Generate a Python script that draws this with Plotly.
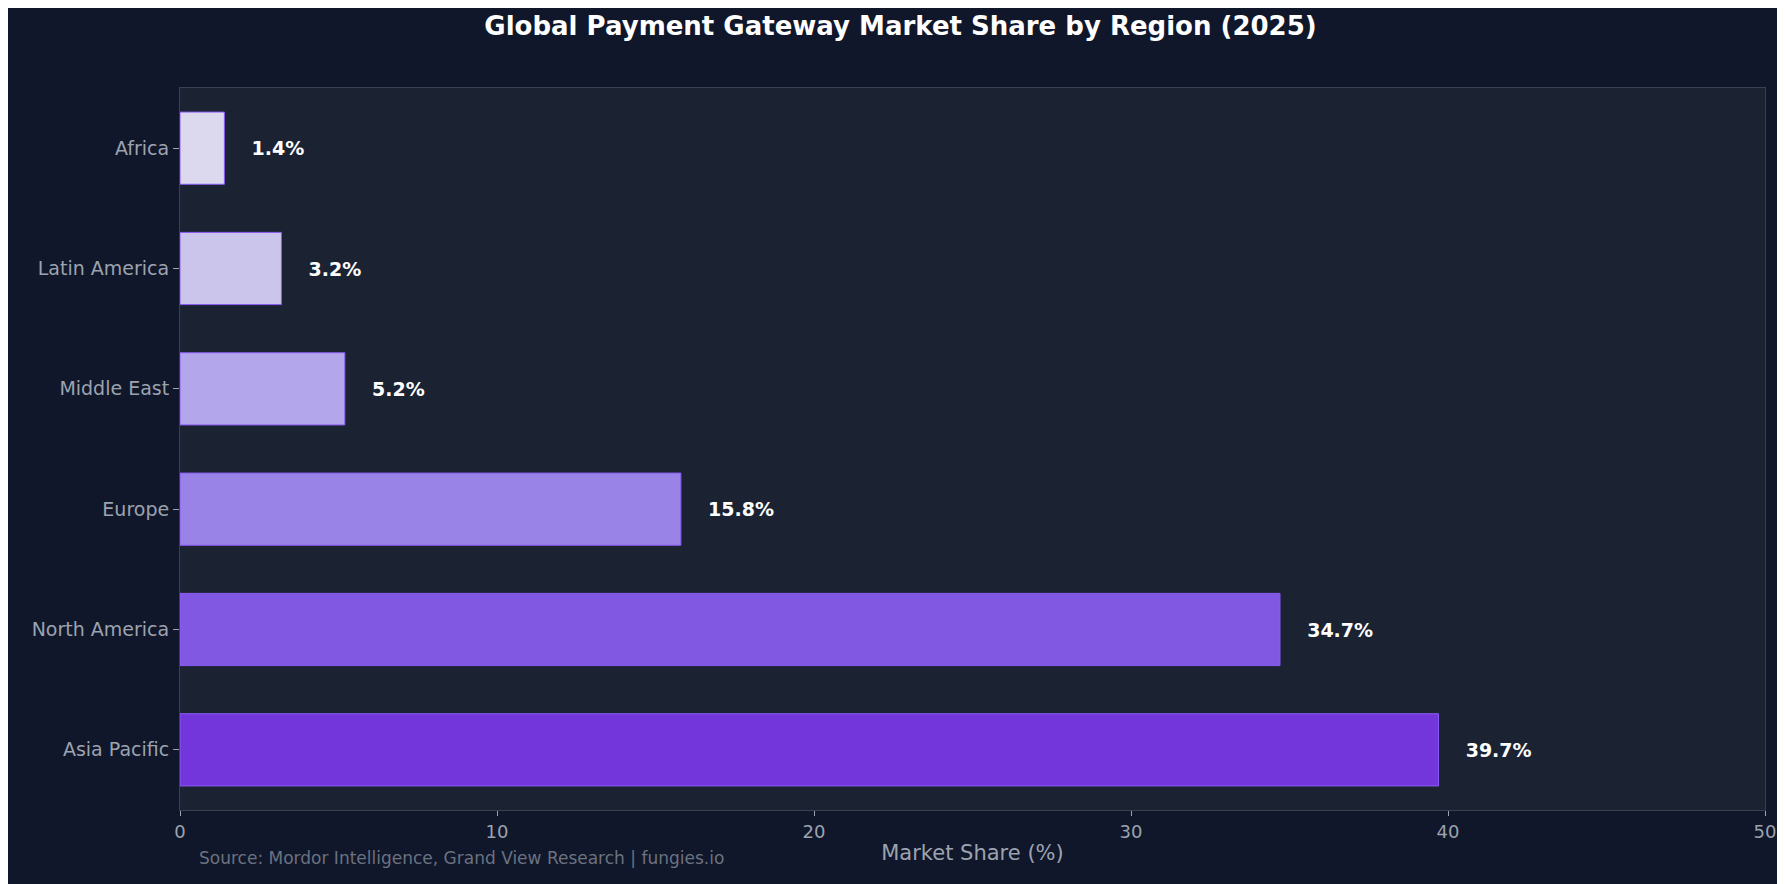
import plotly.graph_objects as go

regions = ["Asia Pacific", "North America", "Europe", "Middle East", "Latin America", "Africa"]
shares = [39.7, 34.7, 15.8, 5.2, 3.2, 1.4]
colors = ["#7236db", "#8058e2", "#9a83e6", "#b4a6ea", "#cbc5ec", "#dcd8ee"]
labels = [f"{v}%" for v in shares]

fig = go.Figure(go.Bar(
    y=regions, x=shares, orientation="h", width=0.6,
    marker=dict(color=colors, line=dict(color="#8b5cf6", width=1)),
    text=labels, textposition="outside",
    textfont=dict(color="white", size=19, family="DejaVu Sans"),
    cliponaxis=False,
))
fig.update_traces(texttemplate="\u00a0\u00a0\u00a0\u00a0<b>%{text}</b>")
fig.update_layout(
    width=1785, height=884,
    paper_bgcolor="#10172a", plot_bgcolor="#1b2333",
    margin=dict(l=172, r=28, t=80, b=82),
    title=dict(text="<b>Global Payment Gateway Market Share by Region (2025)</b>",
               x=0.5, xanchor="center", y=0.99, yanchor="top",
               font=dict(color="white", size=26, family="DejaVu Sans")),
    font=dict(family="DejaVu Sans", color="#9ca3af"),
    showlegend=False,
    bargap=0.4,
    annotations=[dict(text="Source: Mordor Intelligence, Grand View Research | fungies.io",
                      xref="paper", yref="paper", x=0.011, y=-0.05, xanchor="left", yanchor="top",
                      showarrow=False, font=dict(size=17, color="#6b7280"))],
)
fig.update_xaxes(range=[0, 50], dtick=10, showgrid=False, zeroline=False,
                 title=dict(text="Market Share (%)", font=dict(size=21, color="#9ca3af"), standoff=4),
                 tickfont=dict(size=18, color="#9ca3af"), ticks="outside", tickcolor="#9ca3af",
                 showline=True, linecolor="#374151", mirror=True)
fig.update_yaxes(showgrid=False, tickfont=dict(size=19, color="#9ca3af"), ticks="outside",
                 tickcolor="#9ca3af", ticklen=6, showline=True, linecolor="#374151", mirror=True)
fig.write_html("out.html")
